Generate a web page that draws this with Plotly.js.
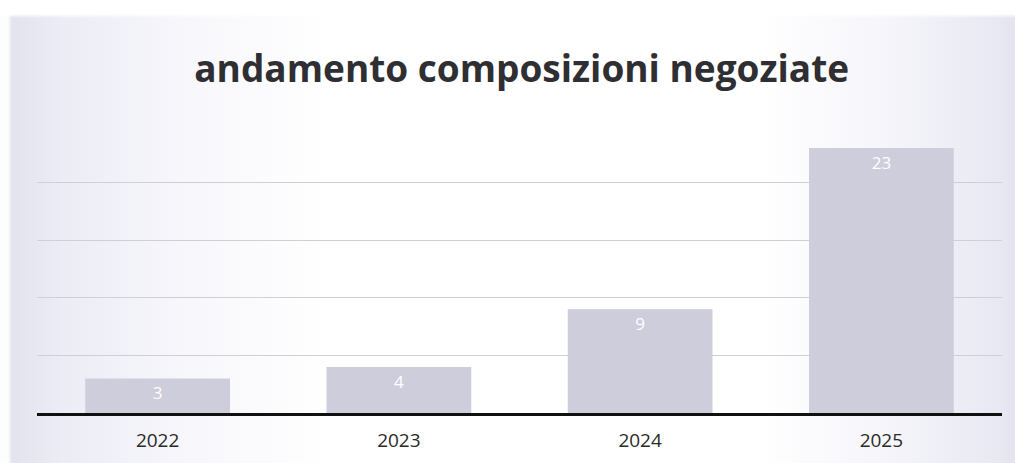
<!DOCTYPE html>
<html>
<head>
<meta charset="utf-8">
<script src="https://cdn.plot.ly/plotly-3.0.1.min.js"></script>
<style>
  html, body { margin: 0; padding: 0; background: #ffffff; }
  #wrap {
    position: absolute; left: 0; top: 0; width: 1015px; height: 463px;
    background:
      linear-gradient(to bottom, #ffffff 0px, #ffffff 14px, rgba(255,255,255,0) 18px),
      linear-gradient(to right, #fdfdfd 0px, #fdfdfd 8px, #e3e3ef 12px, #ececf6 60px, #f8f8fc 200px, #ffffff 330px, #ffffff 760px, #f6f6fb 880px, #e8e8f3 1000px, #e4e4f0 1015px);
  }
  #chart { position: absolute; left: 0; top: 0; width: 1015px; height: 463px; }
</style>
</head>
<body>
<div id="wrap"><div id="chart"></div></div>
<script>
const categories = ["2022", "2023", "2024", "2025"];
const values = [3, 4, 9, 23];
const gridTicks = [5, 10, 15, 20];
const chartTitle = "andamento composizioni negoziate";

const trace = {
  type: "bar",
  x: categories,
  y: values,
  text: values.map(String),
  textposition: "inside",
  insidetextanchor: "end",
  textfont: { family: "Open Sans, sans-serif", size: 17, color: "#ffffff" },
  marker: { color: "#cdcddb", line: { width: 0 } },
  hoverinfo: "skip",
  cliponaxis: false
};

const layout = {
  width: 1015, height: 463,
  margin: { l: 37, r: 13, t: 125, b: 50 },
  paper_bgcolor: "rgba(0,0,0,0)",
  plot_bgcolor: "rgba(0,0,0,0)",
  bargap: 0.4,
  showlegend: false,
  title: {
    text: chartTitle,
    xref: "container",
    x: 0.514, xanchor: "center",
    y: 0.85, yanchor: "middle",
    font: { family: "Open Sans, sans-serif", size: 37, color: "#2f2f33", weight: 700 }
  },
  xaxis: {
    type: "category",
    showgrid: false,
    showline: true, linecolor: "#111111", linewidth: 3,
    ticks: "",
    ticklabelstandoff: 8,
    tickfont: { family: "Open Sans, sans-serif", size: 19, color: "#2a2a2a" },
    fixedrange: true
  },
  yaxis: {
    range: [0, 25],
    tickvals: gridTicks,
    showticklabels: false,
    showgrid: true, gridcolor: "#cfcfd8", gridwidth: 1,
    zeroline: false,
    showline: false,
    fixedrange: true
  }
};

Plotly.newPlot("chart", [trace], layout, { displayModeBar: false, staticPlot: true });
</script>
</body>
</html>
